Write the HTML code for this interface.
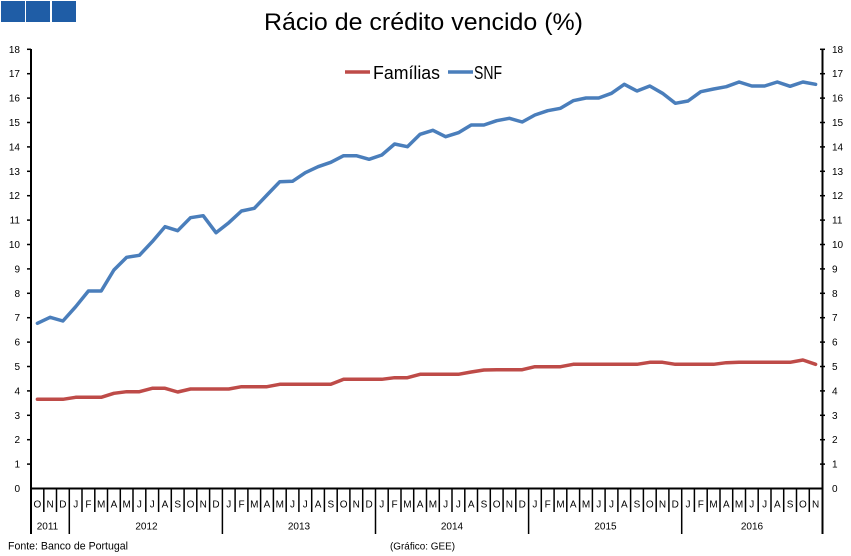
<!DOCTYPE html>
<html>
<head>
<meta charset="utf-8">
<style>
  html,body{margin:0;padding:0;background:#fff;}
  svg{display:block;}
  text{font-family:"Liberation Sans", Arial, sans-serif;fill:#000;}
</style>
</head>
<body>
<svg width="851" height="556" viewBox="0 0 851 556" xmlns="http://www.w3.org/2000/svg">
  <rect x="0" y="0" width="851" height="556" fill="#fff"/>
  <!-- logo squares -->
  <rect x="1" y="1" width="24" height="21" fill="#1f5da6"/>
  <rect x="26" y="1" width="24" height="21" fill="#1f5da6"/>
  <rect x="52" y="1" width="24" height="21" fill="#1f5da6"/>

  <!-- title -->
  <text x="264" y="30" font-size="24" textLength="319" lengthAdjust="spacingAndGlyphs" fill="#222">Rácio de crédito vencido (%)</text>

  <!-- legend -->
  <line x1="345" y1="72" x2="370" y2="72" stroke="#be4b48" stroke-width="3.5"/>
  <text x="373" y="79" font-size="18" textLength="67" lengthAdjust="spacingAndGlyphs" fill="#222">Famílias</text>
  <line x1="448" y1="72" x2="473" y2="72" stroke="#4a7ebb" stroke-width="3.5"/>
  <text x="474" y="79" font-size="18" textLength="28" lengthAdjust="spacingAndGlyphs" fill="#222">SNF</text>

  <!-- axes -->
  <g stroke="#000">
    <line x1="31" y1="49" x2="31" y2="534" stroke-width="2"/>
    <line x1="822.5" y1="49" x2="822.5" y2="534" stroke-width="2"/>
    <line x1="30" y1="488.5" x2="823.5" y2="488.5" stroke-width="2"/>
  </g>
  <!-- y ticks -->
  <g stroke="#000" stroke-width="1.5">
    <line x1="27" y1="49.3" x2="31" y2="49.3"/><line x1="27" y1="73.7" x2="31" y2="73.7"/>
    <line x1="27" y1="98.1" x2="31" y2="98.1"/><line x1="27" y1="122.5" x2="31" y2="122.5"/>
    <line x1="27" y1="146.9" x2="31" y2="146.9"/><line x1="27" y1="171.3" x2="31" y2="171.3"/>
    <line x1="27" y1="195.7" x2="31" y2="195.7"/><line x1="27" y1="220.1" x2="31" y2="220.1"/>
    <line x1="27" y1="244.5" x2="31" y2="244.5"/><line x1="27" y1="268.9" x2="31" y2="268.9"/>
    <line x1="27" y1="293.3" x2="31" y2="293.3"/><line x1="27" y1="317.7" x2="31" y2="317.7"/>
    <line x1="27" y1="342.1" x2="31" y2="342.1"/><line x1="27" y1="366.5" x2="31" y2="366.5"/>
    <line x1="27" y1="390.9" x2="31" y2="390.9"/><line x1="27" y1="415.3" x2="31" y2="415.3"/>
    <line x1="27" y1="439.7" x2="31" y2="439.7"/><line x1="27" y1="464.1" x2="31" y2="464.1"/>
    <line x1="820" y1="49.3" x2="825" y2="49.3"/><line x1="820" y1="73.7" x2="825" y2="73.7"/>
    <line x1="820" y1="98.1" x2="825" y2="98.1"/><line x1="820" y1="122.5" x2="825" y2="122.5"/>
    <line x1="820" y1="146.9" x2="825" y2="146.9"/><line x1="820" y1="171.3" x2="825" y2="171.3"/>
    <line x1="820" y1="195.7" x2="825" y2="195.7"/><line x1="820" y1="220.1" x2="825" y2="220.1"/>
    <line x1="820" y1="244.5" x2="825" y2="244.5"/><line x1="820" y1="268.9" x2="825" y2="268.9"/>
    <line x1="820" y1="293.3" x2="825" y2="293.3"/><line x1="820" y1="317.7" x2="825" y2="317.7"/>
    <line x1="820" y1="342.1" x2="825" y2="342.1"/><line x1="820" y1="366.5" x2="825" y2="366.5"/>
    <line x1="820" y1="390.9" x2="825" y2="390.9"/><line x1="820" y1="415.3" x2="825" y2="415.3"/>
    <line x1="820" y1="439.7" x2="825" y2="439.7"/><line x1="820" y1="464.1" x2="825" y2="464.1"/>
  </g>
  <!-- y labels left -->
  <g font-size="10" text-anchor="end">
    <text x="20" y="52.8">18</text><text x="20" y="77.2">17</text><text x="20" y="101.6">16</text>
    <text x="20" y="126">15</text><text x="20" y="150.4">14</text><text x="20" y="174.8">13</text>
    <text x="20" y="199.2">12</text><text x="20" y="223.6">11</text><text x="20" y="248">10</text>
    <text x="20" y="272.4">9</text><text x="20" y="296.8">8</text><text x="20" y="321.2">7</text>
    <text x="20" y="345.6">6</text><text x="20" y="370">5</text><text x="20" y="394.4">4</text>
    <text x="20" y="418.8">3</text><text x="20" y="443.2">2</text><text x="20" y="467.6">1</text>
    <text x="20" y="492">0</text>
  </g>
  <!-- y labels right -->
  <g font-size="10" text-anchor="start">
    <text x="832" y="52.8">18</text><text x="832" y="77.2">17</text><text x="832" y="101.6">16</text>
    <text x="832" y="126">15</text><text x="832" y="150.4">14</text><text x="832" y="174.8">13</text>
    <text x="832" y="199.2">12</text><text x="832" y="223.6">11</text><text x="832" y="248">10</text>
    <text x="832" y="272.4">9</text><text x="832" y="296.8">8</text><text x="832" y="321.2">7</text>
    <text x="832" y="345.6">6</text><text x="832" y="370">5</text><text x="832" y="394.4">4</text>
    <text x="832" y="418.8">3</text><text x="832" y="443.2">2</text><text x="832" y="467.6">1</text>
    <text x="832" y="492">0</text>
  </g>

  <!-- month separators -->
  <g stroke="#000" stroke-width="1.5">
    <line x1="43.8" y1="489" x2="43.8" y2="512"/><line x1="56.5" y1="489" x2="56.5" y2="512"/>
    <line x1="69.3" y1="489" x2="69.3" y2="534"/>
    <line x1="82.0" y1="489" x2="82.0" y2="512"/><line x1="94.8" y1="489" x2="94.8" y2="512"/>
    <line x1="107.5" y1="489" x2="107.5" y2="512"/><line x1="120.3" y1="489" x2="120.3" y2="512"/>
    <line x1="133.0" y1="489" x2="133.0" y2="512"/><line x1="145.8" y1="489" x2="145.8" y2="512"/>
    <line x1="158.6" y1="489" x2="158.6" y2="512"/><line x1="171.3" y1="489" x2="171.3" y2="512"/>
    <line x1="184.1" y1="489" x2="184.1" y2="512"/><line x1="196.8" y1="489" x2="196.8" y2="512"/>
    <line x1="209.6" y1="489" x2="209.6" y2="512"/>
    <line x1="222.4" y1="489" x2="222.4" y2="534"/>
    <line x1="235.1" y1="489" x2="235.1" y2="512"/><line x1="247.9" y1="489" x2="247.9" y2="512"/>
    <line x1="260.6" y1="489" x2="260.6" y2="512"/><line x1="273.4" y1="489" x2="273.4" y2="512"/>
    <line x1="286.2" y1="489" x2="286.2" y2="512"/><line x1="298.9" y1="489" x2="298.9" y2="512"/>
    <line x1="311.7" y1="489" x2="311.7" y2="512"/><line x1="324.4" y1="489" x2="324.4" y2="512"/>
    <line x1="337.2" y1="489" x2="337.2" y2="512"/><line x1="349.9" y1="489" x2="349.9" y2="512"/>
    <line x1="362.7" y1="489" x2="362.7" y2="512"/>
    <line x1="375.5" y1="489" x2="375.5" y2="534"/>
    <line x1="388.2" y1="489" x2="388.2" y2="512"/><line x1="401.0" y1="489" x2="401.0" y2="512"/>
    <line x1="413.7" y1="489" x2="413.7" y2="512"/><line x1="426.5" y1="489" x2="426.5" y2="512"/>
    <line x1="439.3" y1="489" x2="439.3" y2="512"/><line x1="452.0" y1="489" x2="452.0" y2="512"/>
    <line x1="464.8" y1="489" x2="464.8" y2="512"/><line x1="477.5" y1="489" x2="477.5" y2="512"/>
    <line x1="490.3" y1="489" x2="490.3" y2="512"/><line x1="503.1" y1="489" x2="503.1" y2="512"/>
    <line x1="515.8" y1="489" x2="515.8" y2="512"/>
    <line x1="528.6" y1="489" x2="528.6" y2="534"/>
    <line x1="541.3" y1="489" x2="541.3" y2="512"/><line x1="554.1" y1="489" x2="554.1" y2="512"/>
    <line x1="566.8" y1="489" x2="566.8" y2="512"/><line x1="579.6" y1="489" x2="579.6" y2="512"/>
    <line x1="592.4" y1="489" x2="592.4" y2="512"/><line x1="605.1" y1="489" x2="605.1" y2="512"/>
    <line x1="617.9" y1="489" x2="617.9" y2="512"/><line x1="630.6" y1="489" x2="630.6" y2="512"/>
    <line x1="643.4" y1="489" x2="643.4" y2="512"/><line x1="656.2" y1="489" x2="656.2" y2="512"/>
    <line x1="668.9" y1="489" x2="668.9" y2="512"/>
    <line x1="681.7" y1="489" x2="681.7" y2="534"/>
    <line x1="694.4" y1="489" x2="694.4" y2="512"/><line x1="707.2" y1="489" x2="707.2" y2="512"/>
    <line x1="720.0" y1="489" x2="720.0" y2="512"/><line x1="732.7" y1="489" x2="732.7" y2="512"/>
    <line x1="745.5" y1="489" x2="745.5" y2="512"/><line x1="758.2" y1="489" x2="758.2" y2="512"/>
    <line x1="771.0" y1="489" x2="771.0" y2="512"/><line x1="783.7" y1="489" x2="783.7" y2="512"/>
    <line x1="796.5" y1="489" x2="796.5" y2="512"/><line x1="809.3" y1="489" x2="809.3" y2="512"/>
  </g>

  <!-- month labels -->
  <g font-size="10" text-anchor="middle">
    <text x="37.4" y="507.5">O</text><text x="50.1" y="507.5">N</text><text x="62.9" y="507.5">D</text>
    <text x="75.7" y="507.5">J</text><text x="88.4" y="507.5">F</text><text x="101.2" y="507.5">M</text><text x="113.9" y="507.5">A</text><text x="126.7" y="507.5">M</text><text x="139.4" y="507.5">J</text><text x="152.2" y="507.5">J</text><text x="165.0" y="507.5">A</text><text x="177.7" y="507.5">S</text><text x="190.5" y="507.5">O</text><text x="203.2" y="507.5">N</text><text x="216.0" y="507.5">D</text>
    <text x="228.8" y="507.5">J</text><text x="241.5" y="507.5">F</text><text x="254.3" y="507.5">M</text><text x="267.0" y="507.5">A</text><text x="279.8" y="507.5">M</text><text x="292.5" y="507.5">J</text><text x="305.3" y="507.5">J</text><text x="318.1" y="507.5">A</text><text x="330.8" y="507.5">S</text><text x="343.6" y="507.5">O</text><text x="356.3" y="507.5">N</text><text x="369.1" y="507.5">D</text>
    <text x="381.8" y="507.5">J</text><text x="394.6" y="507.5">F</text><text x="407.4" y="507.5">M</text><text x="420.1" y="507.5">A</text><text x="432.9" y="507.5">M</text><text x="445.6" y="507.5">J</text><text x="458.4" y="507.5">J</text><text x="471.2" y="507.5">A</text><text x="483.9" y="507.5">S</text><text x="496.7" y="507.5">O</text><text x="509.4" y="507.5">N</text><text x="522.2" y="507.5">D</text>
    <text x="534.9" y="507.5">J</text><text x="547.7" y="507.5">F</text><text x="560.5" y="507.5">M</text><text x="573.2" y="507.5">A</text><text x="586.0" y="507.5">M</text><text x="598.7" y="507.5">J</text><text x="611.5" y="507.5">J</text><text x="624.3" y="507.5">A</text><text x="637.0" y="507.5">S</text><text x="649.8" y="507.5">O</text><text x="662.5" y="507.5">N</text><text x="675.3" y="507.5">D</text>
    <text x="688.0" y="507.5">J</text><text x="700.8" y="507.5">F</text><text x="713.6" y="507.5">M</text><text x="726.3" y="507.5">A</text><text x="739.1" y="507.5">M</text><text x="751.8" y="507.5">J</text><text x="764.6" y="507.5">J</text><text x="777.3" y="507.5">A</text><text x="790.1" y="507.5">S</text><text x="802.9" y="507.5">O</text><text x="815.6" y="507.5">N</text>
  </g>
  <!-- year labels -->
  <g font-size="10" text-anchor="middle">
    <text x="47.5" y="529.5">2011</text>
    <text x="146.5" y="529.5">2012</text>
    <text x="299" y="529.5">2013</text>
    <text x="452" y="529.5">2014</text>
    <text x="605.5" y="529.5">2015</text>
    <text x="752" y="529.5">2016</text>
  </g>

  <!-- footer -->
  <text x="8" y="549.5" font-size="11" textLength="120" lengthAdjust="spacingAndGlyphs" fill="#222">Fonte: Banco de Portugal</text>
  <text x="390" y="549.5" font-size="10" textLength="65" lengthAdjust="spacingAndGlyphs" fill="#222">(Gráfico: GEE)</text>

  <!-- Famílias series -->
  <polyline fill="none" stroke="#be4b48" stroke-width="3.5" stroke-linejoin="round" stroke-linecap="round" points="
    37.4,399.3 50.1,399.3 62.9,399.3 75.7,397.3 88.4,397.3 101.2,397.3 113.9,393.3 126.7,391.7 139.4,391.7 152.2,388.3
    165.0,388.3 177.7,392 190.5,389 203.2,389 216.0,389 228.8,389 241.5,386.7 254.3,386.7 267.0,386.7 279.8,384.3
    292.5,384.3 305.3,384.3 318.1,384.3 330.8,384.3 343.6,379.3 356.3,379.3 369.1,379.3 381.8,379.3 394.6,377.7 407.4,377.7
    420.1,374.3 432.9,374.3 445.6,374.3 458.4,374.3 471.2,372 483.9,370 496.7,369.7 509.4,369.7 522.2,369.7 534.9,366.7
    547.7,366.7 560.5,366.7 573.2,364.3 586.0,364.3 598.7,364.3 611.5,364.3 624.3,364.3 637.0,364.3 649.8,362.3 662.5,362.3
    675.3,364.3 688.0,364.3 700.8,364.3 713.6,364.3 726.3,362.7 739.1,362.3 751.8,362.3 764.6,362.3 777.3,362.3 790.1,362.3
    802.9,360 815.6,364.3"/>

  <!-- SNF series -->
  <polyline fill="none" stroke="#4a7ebb" stroke-width="3.5" stroke-linejoin="round" stroke-linecap="round" points="
    37.4,323.3 50.1,317.3 62.9,321 75.7,306.7 88.4,291 101.2,291 113.9,270 126.7,257.3 139.4,255.3 152.2,241.7
    165.0,226.7 177.7,230.7 190.5,217.7 203.2,215.7 216.0,232.7 228.8,222.7 241.5,211 254.3,208.3 267.0,195 279.8,181.7
    292.5,181.3 305.3,172.7 318.1,166.7 330.8,162.3 343.6,155.7 356.3,155.7 369.1,159.3 381.8,155 394.6,144 407.4,146.7
    420.1,134.3 432.9,130.3 445.6,136.7 458.4,132.7 471.2,125 483.9,125 496.7,120.7 509.4,118.3 522.2,122 534.9,115
    547.7,110.7 560.5,108.3 573.2,100.7 586.0,98 598.7,98 611.5,93.3 624.3,84.3 637.0,91 649.8,86 662.5,93.3
    675.3,103.3 688.0,101 700.8,91.7 713.6,89 726.3,86.7 739.1,82 751.8,86 764.6,86 777.3,82 790.1,86.3
    802.9,82 815.6,84.3"/>
</svg>
</body>
</html>
